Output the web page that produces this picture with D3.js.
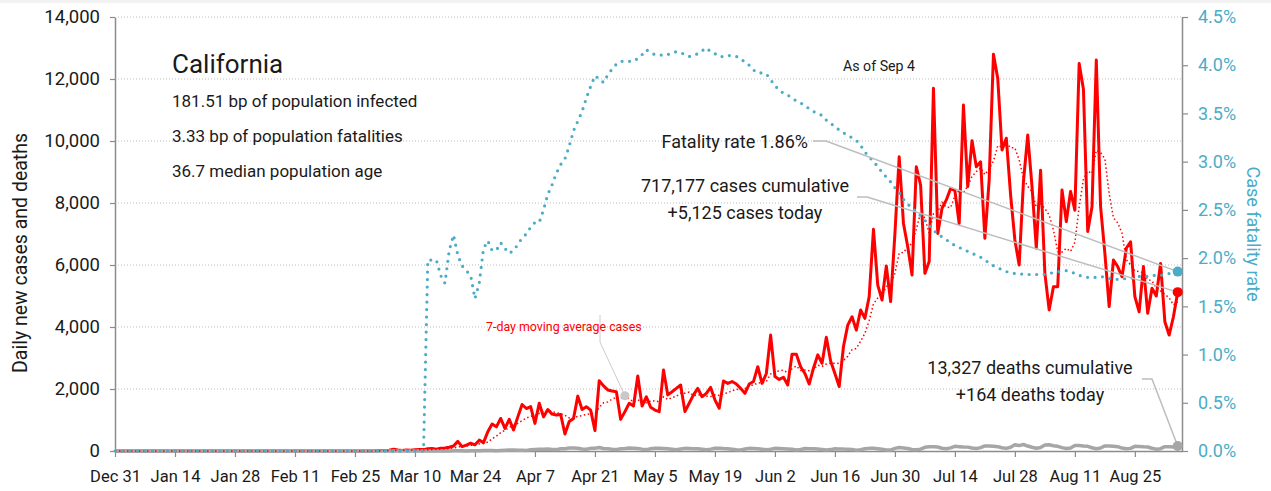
<!DOCTYPE html>
<html>
<head>
<meta charset="utf-8">
<script src="https://cdn.jsdelivr.net/npm/d3@7"></script>
<style>
    body { margin: 0; background: #fff; }
    svg { font-family: Roboto, 'Liberation Sans', sans-serif; }
</style>
</head>
<body>
<svg width="1271" height="491"></svg>
<script>
const startDate = new Date(2019, 11, 31);

const xTickLabels = ['Dec 31', 'Jan 14', 'Jan 28', 'Feb 11', 'Feb 25', 'Mar 10', 'Mar 24', 'Apr 7',
    'Apr 21', 'May 5', 'May 19', 'Jun 2', 'Jun 16', 'Jun 30', 'Jul 14', 'Jul 28', 'Aug 11', 'Aug 25'];
const leftTicks = [0, 2000, 4000, 6000, 8000, 10000, 12000, 14000];
const rightTicks = [0, 0.5, 1, 1.5, 2, 2.5, 3, 3.5, 4, 4.5];

// daily new cases, one value per day from Dec 31
const cases = [
    0, 0, 0, 0, 0, 0, 0, 0, 0, 0, 0, 0, 0, 0, 0, 0, 0, 0, 0, 0,
    0, 0, 0, 0, 0, 0, 0, 0, 0, 0, 0, 0, 0, 0, 0, 0, 0, 0, 0, 0,
    0, 0, 0, 0, 0, 0, 0, 0, 0, 0, 0, 0, 0, 0, 0, 0, 0, 0, 0, 0,
    0,
    10, 20, 15, 25, 60, 30, 20, 35, 25, 40, 50, 45, 70, 80, 60, 90, 100,
    120, 160, 310, 140, 190, 250, 200, 350, 270, 620,
    870, 780, 1050, 730, 1020, 680, 1100, 1500, 1370, 1430,
    890, 1540, 1100, 1340, 1190, 1160, 1180, 550, 950, 1050,
    1770, 1340, 1430, 1320, 660, 2270,
    2100, 1970, 1935, 1910, 1020, 1270, 1540, 1450, 2420, 1450,
    1750, 1410, 1320, 1270, 2610, 1810, 1910, 2020, 2130, 1270,
    1540, 1810, 2020, 1750, 1860, 2050, 1650, 1380, 2260, 2180,
    2240, 2160, 2020, 1860, 2160, 2240, 2720, 2180, 2500, 3740,
    2400, 2310, 2380, 2130, 3120, 3120, 2720, 2500, 2160, 2670,
    3100, 2830, 3670, 2900, 2500, 2080,
    3370, 4060, 4330, 3900, 4550, 4280, 4980, 7150, 5350, 4870, 5970, 4820, 7000,
    9490, 7340, 6590, 5680, 9170, 8580, 5730, 6110, 11700, 7020,
    7830, 8100, 8470, 8400, 7340, 11160, 8530, 10010, 9170,
    9330, 6860, 8740, 12800, 12020, 9710, 10090, 8260, 6810, 6000,
    8690, 10190, 8530, 6540, 9060, 5730, 4550, 5300, 5300, 8420,
    7400, 8370, 7770, 12500, 11670, 7080, 7880, 12610, 7880, 6380,
    4660, 6160, 5950, 5620, 6540, 6750, 4980, 4490, 5950, 4440,
    5250, 5000, 6050, 4170, 3740, 4330, 5125
];

// daily new deaths
const deaths = [
    0, 0, 0, 0, 0, 0, 0, 0, 0, 0, 0, 0, 0, 0, 0, 0, 0, 0, 0, 0,
    0, 0, 0, 0, 0, 0, 0, 0, 0, 0, 0, 0, 0, 0, 0, 0, 0, 0, 0, 0,
    0, 0, 0, 0, 0, 0, 0, 0, 0, 0, 0, 0, 0, 0, 0, 0, 0, 0, 0, 0,
    0, 0, 0, 0, 0, 0, 0, 0, 0, 0, 0, 0, 0,
    2, 1, 2, 3, 4, 3, 5,
    6, 5, 4, 8, 12, 11, 15,
    18, 14, 12, 20, 25, 30, 33,
    28, 25, 20, 44, 52, 60, 58,
    65, 50, 45, 70, 72, 95, 100,
    88, 62, 55, 85, 90, 115, 82,
    70, 55, 45, 75, 80, 95, 92,
    80, 60, 45, 70, 90, 85, 78,
    72, 60, 40, 65, 85, 80, 75,
    70, 55, 38, 60, 88, 90, 80,
    75, 58, 40, 35, 62, 85, 78,
    70, 60, 40, 55, 85, 78, 72,
    68, 55, 35, 50, 80, 75, 70,
    65, 50, 30, 45, 70, 68, 62,
    60, 45, 28, 40, 70, 85, 90,
    75, 55, 35, 30, 85, 110, 95,
    80, 50, 40, 60, 120, 135, 140,
    130, 90, 70, 100, 150, 140, 130,
    125, 95, 80, 110, 165, 160, 150,
    140, 105, 85, 120, 200, 175, 210,
    160, 120, 90, 110, 190, 200, 170,
    150, 110, 80, 100, 180, 175, 160,
    150, 105, 75, 95, 165, 160, 150,
    140, 95, 70, 85, 150, 145, 135,
    130, 90, 60, 75, 140, 135, 130,
    164
];

// case fatality rate, %
const fatalityRate = [
    0, 0, 0, 0, 0, 0, 0, 0, 0, 0, 0, 0, 0, 0, 0, 0, 0, 0, 0, 0,
    0, 0, 0, 0, 0, 0, 0, 0, 0, 0, 0, 0, 0, 0, 0, 0, 0, 0, 0, 0,
    0, 0, 0, 0, 0, 0, 0, 0, 0, 0, 0, 0, 0, 0, 0, 0, 0, 0, 0, 0,
    0, 0, 0, 0, 0, 0, 0, 0, 0, 0, 0, 0, 0,
    1.98, 1.98, 1.98, 1.82, 1.74, 2.08, 2.24, 2.03, 1.92, 1.87,
    1.82, 1.58, 1.74, 2.10, 2.18, 2.08, 2.08, 2.16, 2.10, 2.05,
    2.08, 2.14, 2.21, 2.25, 2.32, 2.37, 2.37, 2.50, 2.66, 2.76,
    2.88, 2.97, 3.03, 3.16, 3.32, 3.42, 3.52, 3.66, 3.78, 3.89,
    3.86, 3.82, 3.90, 3.96, 4.01, 4.04, 4.04, 4.04, 4.04, 4.07,
    4.11, 4.16, 4.13, 4.11, 4.11, 4.10, 4.11, 4.13, 4.14, 4.13,
    4.11, 4.09, 4.10, 4.12, 4.15, 4.18, 4.14, 4.12, 4.09, 4.09,
    4.10, 4.10, 4.09, 4.07, 4.03, 4.00, 3.95, 3.92, 3.92, 3.91,
    3.85, 3.79, 3.74, 3.71, 3.69, 3.66, 3.63, 3.61, 3.58, 3.55,
    3.52, 3.50,
    3.48, 3.43, 3.40, 3.36, 3.33, 3.30, 3.27, 3.25, 3.22, 3.17,
    3.10, 3.05, 3.00, 2.95, 2.89, 2.84, 2.79, 2.73, 2.68, 2.61,
    2.56, 2.52, 2.48, 2.44, 2.39, 2.34, 2.29, 2.25, 2.22, 2.19,
    2.16, 2.13, 2.11, 2.09, 2.07, 2.05, 2.03, 2.01, 1.98, 1.95,
    1.92, 1.90, 1.88, 1.86, 1.85, 1.84, 1.84, 1.83, 1.83, 1.83,
    1.83, 1.83, 1.83, 1.84, 1.85, 1.86, 1.86, 1.87, 1.86, 1.84,
    1.82, 1.81, 1.80, 1.80, 1.80, 1.81, 1.80, 1.79, 1.78, 1.78,
    1.78, 1.79, 1.79, 1.80, 1.81, 1.81, 1.81, 1.82, 1.82, 1.82,
    1.83, 1.84, 1.85, 1.86
];

const infoLines = ['181.51 bp of population infected', '3.33 bp of population fatalities', '36.7 median population age'];
const casesNote = ['717,177 cases cumulative', '+5,125 cases today'];
const deathsNote = ['13,327 deaths cumulative', '+164 deaths today'];

const svg = d3.select('svg');
const teal = '#4bacc6';
const red = '#ff0000';
const grey = '#a6a6a6';

const rows = cases.map((c, i) => ({
    date: d3.timeDay.offset(startDate, i),
    cases: c,
    deaths: deaths[i],
    cfr: fatalityRate[i]
}));
// the chart's own 7-day trailing average of the cases series
rows.forEach((r, i) => {
    r.avg = d3.mean(rows.slice(Math.max(0, i - 6), i + 1), d => d.cases);
});
const last = rows[rows.length - 1];

const x = d3.scaleTime()
    .domain([startDate, d3.timeDay.offset(startDate, 249)])
    .range([115, 1182]);
const yL = d3.scaleLinear().domain([0, 14000]).range([451, 17]);
const yR = d3.scaleLinear().domain([0, 4.5]).range([451, 17]);

svg.append('rect')
    .attr('width', 1271)
    .attr('height', 3)
    .attr('fill', '#f2f2f2');

svg.append('g')
    .selectAll('line')
    .data(leftTicks.filter(t => t > 0))
    .enter()
    .append('line')
    .attr('x1', 118)
    .attr('x2', 1182)
    .attr('y1', d => yL(d))
    .attr('y2', d => yL(d))
    .attr('stroke', '#bdbdbd')
    .attr('stroke-dasharray', '1,2');

const styleAxis = (g, color) => {
    g.select('.domain').attr('stroke', '#8c8c8c').attr('stroke-width', 1.5);
    g.selectAll('.tick line').attr('stroke', '#8c8c8c').attr('stroke-width', 1.2);
    g.selectAll('.tick text').attr('fill', color);
};

svg.append('g')
    .attr('transform', 'translate(0,451)')
    .call(d3.axisBottom(x)
        .tickValues(xTickLabels.map((l, i) => d3.timeDay.offset(startDate, i * 14)))
        .tickFormat((d, i) => xTickLabels[i])
        .tickSizeInner(6)
        .tickSizeOuter(0)
        .tickPadding(13))
    .attr('font-family', null)
    .attr('font-size', 16.5)
    .call(g => styleAxis(g, '#1a1a1a'));

svg.append('g')
    .attr('transform', 'translate(115,0)')
    .call(d3.axisLeft(yL)
        .tickValues(leftTicks)
        .tickFormat(d3.format(','))
        .tickSizeInner(5)
        .tickSizeOuter(0)
        .tickPadding(10))
    .attr('font-family', null)
    .attr('font-size', 18.5)
    .call(g => styleAxis(g, '#1a1a1a'));

svg.append('g')
    .attr('transform', 'translate(1182,0)')
    .call(d3.axisRight(yR)
        .tickValues(rightTicks)
        .tickFormat(d => d.toFixed(1) + '%')
        .tickSizeInner(6)
        .tickSizeOuter(0)
        .tickPadding(10))
    .attr('font-family', null)
    .attr('font-size', 18)
    .call(g => styleAxis(g, teal));

svg.append('text')
    .attr('transform', 'translate(27,253) rotate(-90)')
    .attr('text-anchor', 'middle')
    .attr('font-size', 19.5)
    .attr('fill', '#1a1a1a')
    .text('Daily new cases and deaths');

svg.append('text')
    .attr('transform', 'translate(1247,234) rotate(90)')
    .attr('text-anchor', 'middle')
    .attr('font-size', 18)
    .attr('fill', teal)
    .text('Case fatality rate');

const lineL = key => d3.line().x(d => x(d.date)).y(d => yL(d[key]));

svg.append('path')
    .datum(rows)
    .attr('fill', 'none')
    .attr('stroke', red)
    .attr('stroke-width', 3)
    .attr('stroke-linejoin', 'round')
    .attr('d', lineL('cases'));

svg.append('path')
    .datum(rows)
    .attr('fill', 'none')
    .attr('stroke', grey)
    .attr('stroke-width', 3.5)
    .attr('stroke-linejoin', 'round')
    .attr('d', lineL('deaths'));

svg.append('path')
    .datum(rows)
    .attr('fill', 'none')
    .attr('stroke', red)
    .attr('stroke-width', 1.5)
    .attr('stroke-dasharray', '1.5,2.5')
    .attr('d', lineL('avg'));

svg.append('path')
    .datum(rows)
    .attr('fill', 'none')
    .attr('stroke', teal)
    .attr('stroke-width', 3.2)
    .attr('stroke-linecap', 'round')
    .attr('stroke-dasharray', '0,7.5')
    .attr('d', d3.line().x(d => x(d.date)).y(d => yR(d.cfr)));

// annotation leaders
const avgPoint = rows[119];
const leaders = [
    [[600, 315], [600, 342], [x(avgPoint.date), yL(avgPoint.avg)]],
    [[813, 141], [826, 141], [x(last.date), yR(last.cfr)]],
    [[857, 197], [867, 197], [x(last.date), yL(last.cases)]],
    [[1142, 379], [1152, 379], [x(last.date), yL(last.deaths)]]
];
svg.append('g')
    .selectAll('path')
    .data(leaders)
    .enter()
    .append('path')
    .attr('d', d3.line())
    .attr('fill', 'none')
    .attr('stroke', (d, i) => i === 0 ? '#cccccc' : '#bdbdbd')
    .attr('stroke-width', (d, i) => i === 0 ? 1 : 1.5);

svg.append('circle')
    .attr('cx', x(avgPoint.date))
    .attr('cy', yL(avgPoint.avg))
    .attr('r', 4.5)
    .attr('fill', '#c8c8c8');

const ends = [
    { v: yL(last.deaths), c: grey },
    { v: yL(last.cases), c: red },
    { v: yR(last.cfr), c: teal }
];
svg.append('g')
    .selectAll('circle')
    .data(ends)
    .enter()
    .append('circle')
    .attr('cx', x(last.date))
    .attr('cy', d => d.v)
    .attr('r', 5)
    .attr('fill', d => d.c);

const label = (txt, tx, ty, size, anchor, color) => svg.append('text')
    .attr('x', tx)
    .attr('y', ty)
    .attr('font-size', size)
    .attr('text-anchor', anchor || 'start')
    .attr('fill', color || '#1a1a1a')
    .text(txt);

label('California', 172, 73, 26);
infoLines.forEach((t, i) => label(t, 172, [107, 142, 177][i], 17));
label('As of Sep 4', 843, 71, 14.2);
label('Fatality rate 1.86%', 808, 148, 18, 'end');
casesNote.forEach((t, i) => label(t, 745, 192 + i * 27, 18, 'middle'));
deathsNote.forEach((t, i) => label(t, 1030, 374 + i * 27, 18, 'middle'));
label('7-day moving average cases', 486, 331, 12.4, 'start', red);
</script>
</body>
</html>
